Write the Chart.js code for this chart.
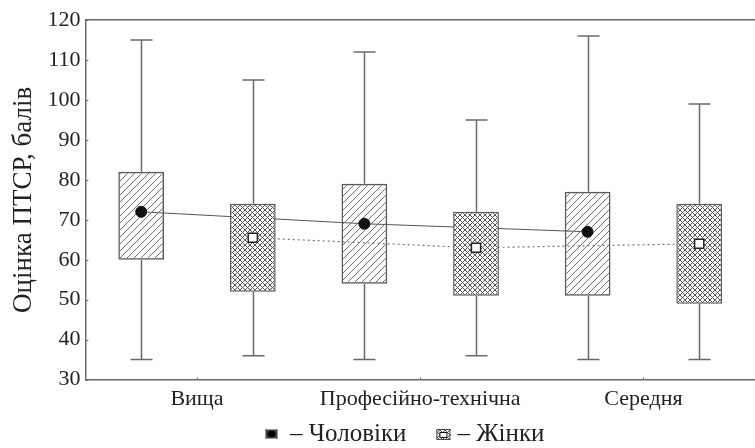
<!DOCTYPE html>
<html>
<head>
<meta charset="utf-8">
<script src="https://cdn.jsdelivr.net/npm/chart.js@4"></script>
<style>
  html, body { margin: 0; padding: 0; background: #fff; overflow: hidden; }
  #wrap { width: 763px; height: 448px; position: relative; }
</style>
</head>
<body>
<div id="wrap"><canvas id="chart-box"></canvas></div>
<script>
const categories = ["Вища", "Професійно-технічна", "Середня"];
const slots = ["m0", "w0", "m1", "w1", "m2", "w2"];

// men
const menMin = [35, 35, 35];
const menQ1 = [60, 54, 51];
const menMean = [72, 69, 67];
const menQ3 = [82, 79, 77];
const menMax = [115, 112, 116];

// women
const womenMin = [36, 36, 35];
const womenQ1 = [52, 51, 49];
const womenMean = [65.5, 63, 64];
const womenQ3 = [74, 72, 74];
const womenMax = [105, 95, 99];

const yTicks = [30, 40, 50, 60, 70, 80, 90, 100, 110, 120];
const legendNames = ["– Чоловіки", "– Жінки"];

const FONT = "Liberation Serif";
const INK = "#222";
const LINE = "#6a6a6a";

function diagPattern() {
  const c = document.createElement("canvas");
  c.width = 7; c.height = 7;
  const g = c.getContext("2d");
  g.strokeStyle = "#6f6f6f";
  g.lineWidth = 1;
  g.beginPath();
  g.moveTo(-1, 8); g.lineTo(8, -1);
  g.moveTo(-8, 8); g.lineTo(1, -1);
  g.moveTo(6, 8); g.lineTo(15, -1);
  g.stroke();
  return g.createPattern(c, "repeat");
}

function crossPattern() {
  const c = document.createElement("canvas");
  c.width = 5; c.height = 5;
  const g = c.getContext("2d");
  g.fillStyle = "#fff";
  g.fillRect(0, 0, 5, 5);
  g.strokeStyle = "#555";
  g.lineWidth = 1;
  g.beginPath();
  g.moveTo(0, 0); g.lineTo(5, 5);
  g.moveTo(5, 0); g.lineTo(0, 5);
  g.stroke();
  return g.createPattern(c, "repeat");
}

function drawMenIcon(g, x, y) {
  g.fillStyle = "#444";
  g.fillRect(x, y, 13, 10);
  g.strokeStyle = "#999";
  g.lineWidth = 1;
  g.strokeRect(x + 0.5, y + 0.5, 12, 9);
  g.fillStyle = "#000";
  g.beginPath();
  g.ellipse(x + 6.5, y + 5, 4, 3.2, 0, 0, Math.PI * 2);
  g.fill();
}

function drawWomenIcon(g, x, y) {
  g.fillStyle = crossPattern();
  g.fillRect(x, y, 14, 11);
  g.strokeStyle = "#444";
  g.lineWidth = 1;
  g.strokeRect(x + 0.5, y + 0.5, 13, 10);
  g.fillStyle = "#fff";
  g.fillRect(x + 3.5, y + 3.5, 7, 5);
  g.strokeStyle = "#111";
  g.strokeRect(x + 3.5, y + 3.5, 7, 5);
}

// put a series onto the 6-slot axis (men even, women odd)
function toSlots(vals, offset) {
  const out = [null, null, null, null, null, null];
  vals.forEach((v, i) => { out[i * 2 + offset] = v; });
  return out;
}

const whiskerPlugin = {
  id: "whiskers",
  beforeDatasetsDraw(chart) {
    const ctx = chart.ctx;
    const y = chart.scales.y;
    const xs = chart.scales.x2;
    const sets = [
      [menMin, menQ1, menQ3, menMax],
      [womenMin, womenQ1, womenQ3, womenMax],
    ];
    ctx.save();
    ctx.strokeStyle = LINE;
    ctx.lineWidth = 1.5;
    sets.forEach((s, k) => {
      s[0].forEach((v, j) => {
        const x = Math.round(xs.getPixelForValue(j * 2 + k)) + 0.5;
        const yMin = y.getPixelForValue(s[0][j]);
        const yQ1 = y.getPixelForValue(s[1][j]);
        const yQ3 = y.getPixelForValue(s[2][j]);
        const yMax = y.getPixelForValue(s[3][j]);
        ctx.beginPath();
        ctx.moveTo(x, yMax); ctx.lineTo(x, yQ3);
        ctx.moveTo(x, yQ1); ctx.lineTo(x, yMin);
        ctx.moveTo(x - 11, yMax); ctx.lineTo(x + 11, yMax);
        ctx.moveTo(x - 11, yMin); ctx.lineTo(x + 11, yMin);
        ctx.stroke();
      });
    });
    // small inward ticks
    ctx.lineWidth = 1;
    const area = chart.chartArea;
    y.ticks.forEach((t) => {
      const py = Math.round(y.getPixelForValue(t.value)) + 0.5;
      ctx.beginPath();
      ctx.moveTo(area.left, py); ctx.lineTo(area.left + 3, py);
      ctx.stroke();
    });
    const x = chart.scales.x;
    categories.forEach((c, i) => {
      const px = Math.round(x.getPixelForValue(i)) + 0.5;
      ctx.beginPath();
      ctx.moveTo(px, area.bottom); ctx.lineTo(px, area.bottom - 2);
      ctx.stroke();
    });
    ctx.restore();
  },
};

const legendPlugin = {
  id: "bottomLegend",
  afterDraw(chart) {
    const g = chart.ctx;
    g.save();
    g.font = "25px " + FONT;
    g.textBaseline = "middle";
    const w0 = g.measureText(legendNames[0]).width;
    let x = 265;
    const cy = 434;
    drawMenIcon(g, x, cy - 5);
    x += 25;
    g.fillStyle = INK;
    g.fillText(legendNames[0], x, cy);
    x += w0 + 30;
    drawWomenIcon(g, x, cy - 5);
    x += 21;
    g.fillStyle = INK;
    g.fillText(legendNames[1], x, cy);
    g.restore();
  },
};

const ctx = document.getElementById("chart-box").getContext("2d");

new Chart(ctx, {
  type: "bar",
  plugins: [whiskerPlugin, legendPlugin],
  data: {
    labels: categories,
    datasets: [
      {
        label: "Чоловіки",
        xAxisID: "x2",
        data: toSlots(menQ1.map((q, i) => [q, menQ3[i]]), 0),
        backgroundColor: diagPattern(),
        borderColor: "#5a5a5a",
        borderWidth: 1.5,
        borderSkipped: false,
        grouped: false,
        categoryPercentage: 1,
        barPercentage: 0.41,
        order: 2,
      },
      {
        label: "Жінки",
        xAxisID: "x2",
        data: toSlots(womenQ1.map((q, i) => [q, womenQ3[i]]), 1),
        backgroundColor: crossPattern(),
        borderColor: "#5a5a5a",
        borderWidth: 1.5,
        borderSkipped: false,
        grouped: false,
        categoryPercentage: 1,
        barPercentage: 0.41,
        order: 2,
      },
      {
        type: "line",
        label: "men line",
        xAxisID: "x2",
        data: toSlots(menMean, 0),
        spanGaps: true,
        borderColor: "#555",
        borderWidth: 1,
        pointRadius: 0,
        tension: 0,
        fill: false,
        order: 3,
      },
      {
        type: "line",
        label: "women line",
        xAxisID: "x2",
        data: toSlots(womenMean, 1),
        spanGaps: true,
        borderColor: "#777",
        borderWidth: 1.2,
        borderDash: [2, 3],
        pointRadius: 0,
        tension: 0,
        fill: false,
        order: 3,
      },
      {
        type: "line",
        label: "men mean",
        xAxisID: "x2",
        data: toSlots(menMean, 0),
        showLine: false,
        pointStyle: "circle",
        pointRadius: 5.5,
        pointBackgroundColor: "#111",
        pointBorderColor: "#111",
        order: 0,
      },
      {
        type: "line",
        label: "women mean",
        xAxisID: "x2",
        data: toSlots(womenMean, 1),
        showLine: false,
        pointStyle: "rect",
        pointRadius: 6.5,
        pointBorderWidth: 1.5,
        pointBackgroundColor: "#fff",
        pointBorderColor: "#222",
        order: 0,
      },
    ],
  },
  options: {
    responsive: true,
    maintainAspectRatio: false,
    animation: false,
    layout: {
      padding: { top: 20, right: 0, left: 8, bottom: 30 },
    },
    plugins: {
      tooltip: { enabled: false },
      legend: { display: false },
    },
    scales: {
      y: {
        min: 30,
        max: 120,
        afterBuildTicks(scale) {
          scale.ticks = yTicks.map((v) => ({ value: v }));
        },
        grid: { display: false, drawTicks: false },
        border: { display: true, color: LINE, width: 1.5 },
        ticks: {
          color: INK,
          padding: 5,
          font: { family: FONT, size: 22 },
        },
        title: {
          display: true,
          text: "Оцінка ПТСР, балів",
          color: INK,
          padding: { top: 0, bottom: 2 },
          font: { family: FONT, size: 27 },
        },
      },
      x: {
        offset: true,
        grid: { display: false, drawTicks: false },
        border: { display: true, color: LINE, width: 1.5 },
        ticks: {
          color: INK,
          padding: 6,
          font: { family: FONT, size: 22 },
        },
      },
      x2: {
        type: "category",
        labels: slots,
        position: "top",
        offset: true,
        grid: { display: false, drawTicks: false },
        border: { display: true, color: LINE, width: 1.5 },
        ticks: { display: false },
      },
    },
  },
});
</script>
</body>
</html>
